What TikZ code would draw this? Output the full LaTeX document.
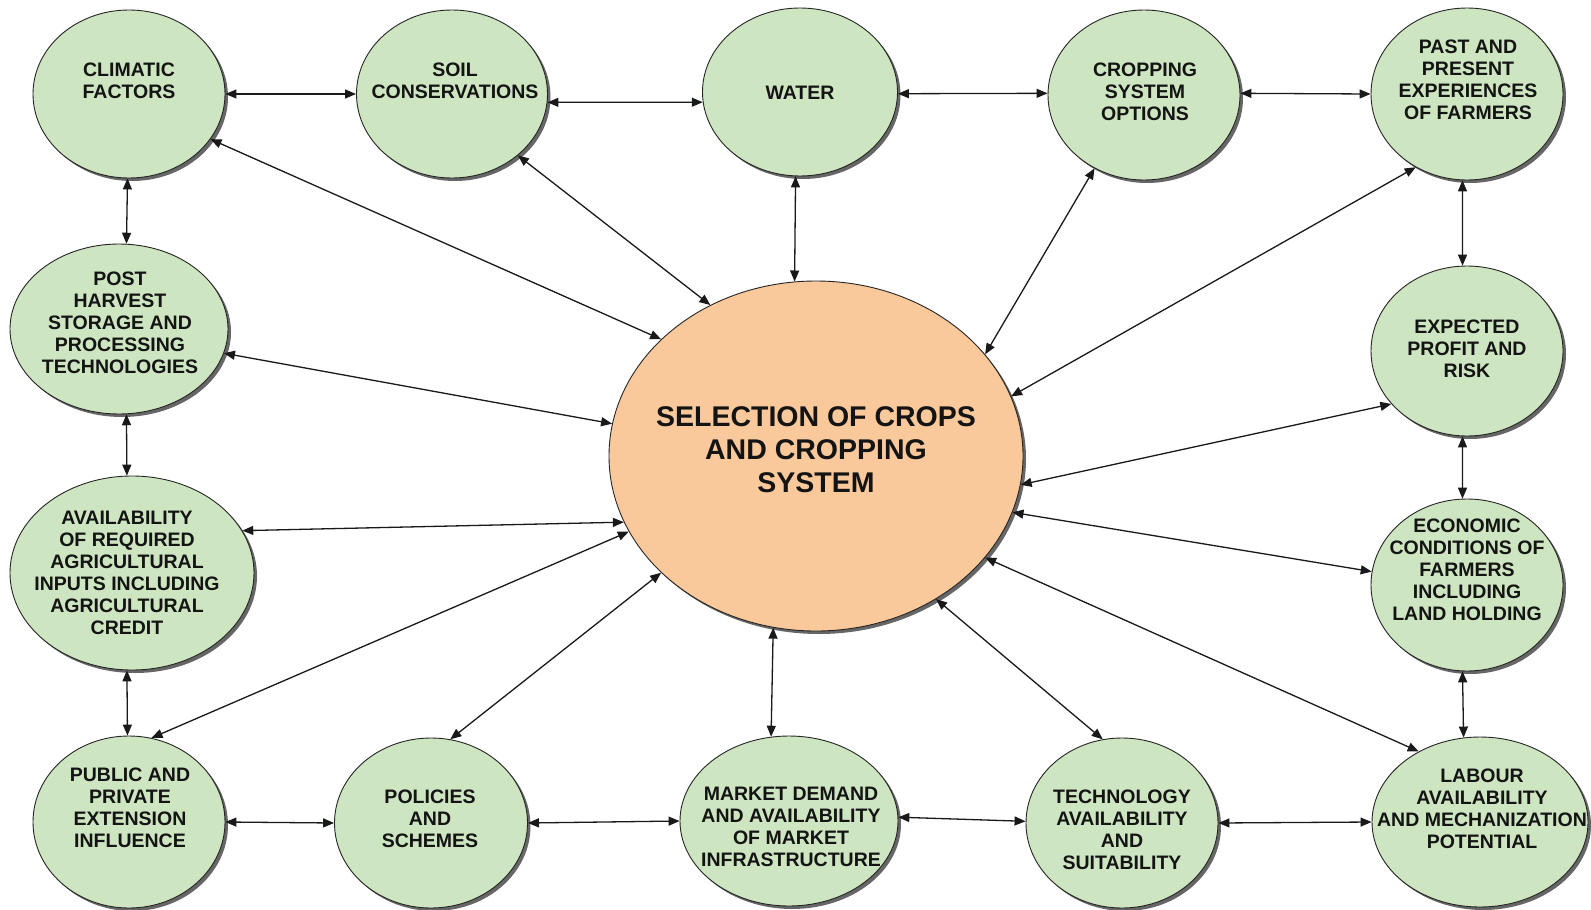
\documentclass[tikz,border=0pt]{standalone}
\usepackage{fontspec}
\setmainfont{Liberation Sans}
\usetikzlibrary{arrows.meta,shapes.geometric,shadows}
\definecolor{leafgreen}{RGB}{205,229,192}
\definecolor{peach}{RGB}{249,200,155}
\definecolor{inkdark}{RGB}{20,20,20}
\begin{document}
\begin{tikzpicture}[x=1pt,y=-1pt,
  bub/.style={ellipse, draw=black!85, line width=0.9pt, fill=leafgreen, inner sep=0pt,
    drop shadow={shadow xshift=3pt,shadow yshift=-3pt,fill=black,opacity=0.6}},
  hub/.style={bub, fill=peach},
  lbl/.style={align=center, text=inkdark, inner sep=0pt,
    font=\bfseries\fontsize{19.5}{22}\selectfont},
  hublbl/.style={lbl, font=\bfseries\fontsize{28.5}{33}\selectfont},
  link/.style={{Triangle[length=11pt,width=9pt]}-{Triangle[length=11pt,width=9pt]},
    line width=1.3pt, draw=black!90}]

% page
\fill[white] (0,0) rectangle (1591,910);
\useasboundingbox (0,0) rectangle (1591,910);

% bubbles
\node[bub, minimum width=192, minimum height=168] (clim)  at (129,94)  {};
\node[bub, minimum width=191, minimum height=168] (soil)  at (452,94)  {};
\node[bub, minimum width=195, minimum height=168] (water) at (800,92)  {};
\node[bub, minimum width=192, minimum height=170] (crop)  at (1144,95) {};
\node[bub, minimum width=192, minimum height=172] (past)  at (1467,94) {};
\node[bub, minimum width=218, minimum height=170] (post)  at (119,329) {};
\node[bub, minimum width=192, minimum height=170] (expt)  at (1467,351) {};
\node[hub, minimum width=414, minimum height=350] (ctr)   at (816,456) {};
\node[bub, minimum width=244, minimum height=194] (avail) at (132,573) {};
\node[bub, minimum width=192, minimum height=172] (econ)  at (1467,585) {};
\node[bub, minimum width=192, minimum height=172] (pub)   at (129,822) {};
\node[bub, minimum width=193, minimum height=170] (pol)   at (431,823) {};
\node[bub, minimum width=218, minimum height=170] (mkt)   at (789,821) {};
\node[bub, minimum width=192, minimum height=170] (tech)  at (1122,823) {};
\node[bub, minimum width=216, minimum height=170] (lab)   at (1480,822) {};

% labels
\node[lbl] (clim-t)  at (129,81)  {CLIMATIC\\FACTORS};
\node[lbl] (soil-t)  at (455,81)  {SOIL\\CONSERVATIONS};
\node[lbl] (water-t) at (800,93)  {WATER};
\node[lbl] (crop-t)  at (1145,92) {CROPPING\\SYSTEM\\OPTIONS};
\node[lbl] (past-t)  at (1468,80) {PAST AND\\PRESENT\\EXPERIENCES\\OF FARMERS};
\node[lbl] (post-t)  at (120,323) {POST\\HARVEST\\STORAGE AND\\PROCESSING\\TECHNOLOGIES};
\node[lbl] (expt-t)  at (1467,349) {EXPECTED\\PROFIT AND\\RISK};
\node[hublbl] (ctr-t) at (816,450) {SELECTION OF CROPS\\AND CROPPING\\SYSTEM};
\node[lbl] (avail-t) at (127,573) {AVAILABILITY\\OF REQUIRED\\AGRICULTURAL\\INPUTS INCLUDING\\AGRICULTURAL\\CREDIT};
\node[lbl] (econ-t)  at (1467,570) {ECONOMIC\\CONDITIONS OF\\FARMERS\\INCLUDING\\LAND HOLDING};
\node[lbl] (pub-t)   at (130,808) {PUBLIC AND\\PRIVATE\\EXTENSION\\INFLUENCE};
\node[lbl] (pol-t)   at (430,819) {POLICIES\\AND\\SCHEMES};
\node[lbl] (mkt-t)   at (791,827) {MARKET DEMAND\\AND AVAILABILITY\\OF MARKET\\INFRASTRUCTURE};
\node[lbl] (tech-t)  at (1122,830) {TECHNOLOGY\\AVAILABILITY\\AND\\SUITABILITY};
\node[lbl] (lab-t)   at (1482,809) {LABOUR\\AVAILABILITY\\AND MECHANIZATION\\POTENTIAL};

% ring of neighbours
\draw[link] (clim.0)    -- (soil.180);
\draw[link] (soil.-5)   -- (water.186);
\draw[link] (water.-1)  -- (crop.179);
\draw[link] (crop.1)    -- (past.180);
\draw[link] (clim.269)  -- (post.85);
\draw[link] (post.275)  -- (avail.93);
\draw[link] (avail.267) -- (pub.91);
\draw[link] (past.267)  -- (expt.93);
\draw[link] (expt.267)  -- (econ.93);
\draw[link] (econ.267)  -- (lab.101);
\draw[link] (pub.0)     -- (pol.180);
\draw[link] (pol.0)     -- (mkt.180);
\draw[link] (mkt.2)     -- (tech.179);
\draw[link] (tech.0)    -- (lab.180);

% spokes to the hub
\draw[link] (clim.331)  -- (ctr.143);
\draw[link] (soil.317)  -- (ctr.125);
\draw[link] (water.267) -- (ctr.97);
\draw[link] (crop.236)  -- (ctr.31);
\draw[link] (past.235)  -- (ctr.17);
\draw[link] (post.347)  -- (ctr.171);
\draw[link] (expt.215)  -- (ctr.352);
\draw[link] (avail.21)  -- (ctr.199);
\draw[link] (econ.172)  -- (ctr.344);
\draw[link] (pub.75)    -- (ctr.202);
\draw[link] (pol.77)    -- (ctr.217);
\draw[link] (mkt.102)   -- (ctr.256);
\draw[link] (tech.103)  -- (ctr.310);
\draw[link] (lab.131)   -- (ctr.329);
\end{tikzpicture}
\end{document}
